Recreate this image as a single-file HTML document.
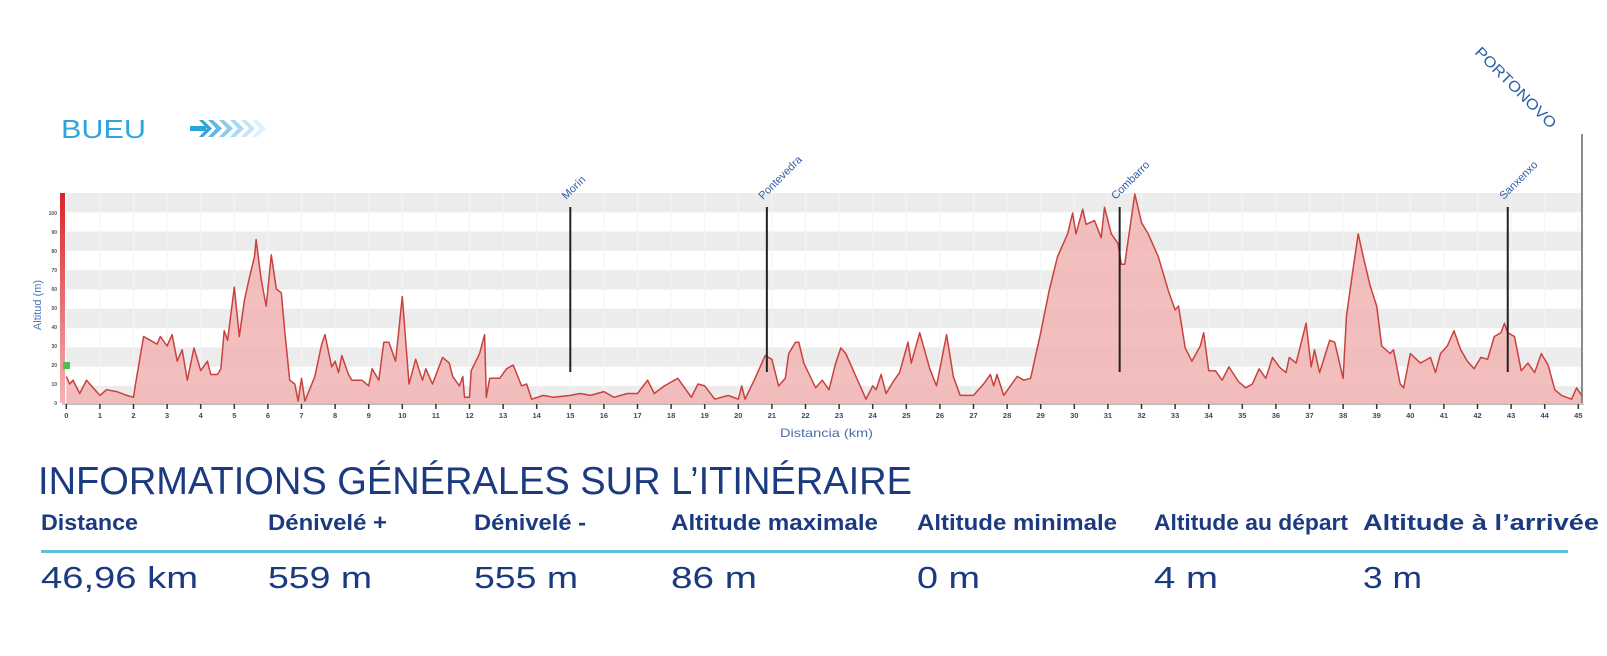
<!DOCTYPE html>
<html><head><meta charset="utf-8"><style>
html,body{margin:0;padding:0;background:#fff;}
svg{display:block;font-family:"Liberation Sans",sans-serif;}
</style></head><body>
<svg id="chart" width="1607" height="656" viewBox="0 0 1607 656" xmlns="http://www.w3.org/2000/svg">
<defs>
<linearGradient id="axisRed" x1="0" y1="0" x2="0" y2="1"><stop offset="0" stop-color="#d8262b"/><stop offset="1" stop-color="#f3b4b4"/></linearGradient>
</defs>
<text x="61" y="138" font-size="26" fill="#2ea6dd" textLength="85" lengthAdjust="spacingAndGlyphs">BUEU</text>
<g>
<rect x="190" y="126" width="16" height="5" fill="#2aa3de"/>
<path d="M203 120 L212 128.5 L203 137 L199 137 L207 128.5 L199 120Z" fill="#2aa3de"/>
<path d="M213 120 L222 128.5 L213 137 L208 137 L216 128.5 L208 120Z" fill="#5fb8e6"/>
<path d="M224 120 L233 128.5 L224 137 L219 137 L227 128.5 L219 120Z" fill="#8ccbee"/>
<path d="M235 120 L244 128.5 L235 137 L230 137 L238 128.5 L230 120Z" fill="#aad8f2"/>
<path d="M246 120 L255 128.5 L246 137 L241 137 L249 128.5 L241 120Z" fill="#c5e5f6"/>
<path d="M257 120 L266 128.5 L257 137 L252 137 L260 128.5 L252 120Z" fill="#dff0fa"/>
</g>
<g id="grid"></g>
<g id="vgrid"></g>
<g id="area"></g>
<g id="markers"></g>
<rect x="60" y="193" width="5" height="210" fill="url(#axisRed)"/>
<rect x="63" y="362" width="7" height="7" fill="#4cc04c"/>
<g id="yaxis"></g>
<g id="xaxis"></g>
<text transform="translate(41,305) rotate(-90)" text-anchor="middle" font-size="11" fill="#4a74b8">Altitud (m)</text>
<text x="780" y="437" font-size="12" fill="#4a6fa8" textLength="93" lengthAdjust="spacingAndGlyphs">Distancia (km)</text>
<text x="38" y="494" font-size="39" fill="#1c3a80" textLength="874" lengthAdjust="spacingAndGlyphs">INFORMATIONS GÉNÉRALES SUR L’ITINÉRAIRE</text>
<g id="info"></g>
<rect x="41" y="550" width="1527" height="3" fill="#5cc0dd"/>
</svg>
<script>
const NS='http://www.w3.org/2000/svg';
const kms=[0,0.1,0.2,0.4,0.6,0.7,1,1.2,1.5,1.8,2,2.05,2.3,2.5,2.7,2.8,3,3.15,3.3,3.45,3.6,3.8,4,4.2,4.3,4.5,4.6,4.7,4.8,5,5.15,5.3,5.45,5.6,5.65,5.8,5.95,6.1,6.25,6.4,6.5,6.65,6.8,6.9,7,7.1,7.4,7.6,7.7,7.9,8,8.1,8.2,8.4,8.5,8.8,9,9.1,9.3,9.45,9.6,9.8,10,10.2,10.4,10.6,10.7,10.9,11.2,11.4,11.5,11.7,11.8,11.85,12,12.05,12.3,12.45,12.5,12.6,12.9,13.1,13.3,13.55,13.7,13.85,14.2,14.5,15,15.3,15.6,16,16.3,16.7,17,17.3,17.5,17.8,18.2,18.6,18.8,19,19.3,19.7,20,20.1,20.2,20.5,20.8,21,21.2,21.4,21.5,21.7,21.8,21.95,22.3,22.5,22.7,22.9,23.05,23.2,23.5,23.8,24,24.1,24.25,24.4,24.6,24.8,25.05,25.15,25.4,25.7,25.9,26.2,26.4,26.6,27,27.3,27.5,27.6,27.7,27.9,28.3,28.5,28.7,29,29.25,29.5,29.8,29.95,30.05,30.25,30.35,30.6,30.8,30.9,31.1,31.3,31.4,31.5,31.8,32,32.2,32.5,32.8,33,33.1,33.3,33.5,33.75,33.85,34,34.2,34.4,34.6,34.9,35.1,35.3,35.5,35.7,35.9,36.1,36.3,36.4,36.6,36.9,37.05,37.15,37.3,37.6,37.75,38,38.1,38.3,38.45,38.6,38.8,39,39.15,39.4,39.5,39.7,39.8,40,40.3,40.6,40.75,40.9,41.1,41.3,41.5,41.7,41.9,42.1,42.3,42.5,42.7,42.8,42.9,43.1,43.3,43.5,43.7,43.9,44.1,44.3,44.5,44.8,44.95,45.1];
const alts=[14,10,12,5,12,10,4,7,6,4,3,9,35,33,31,35,30,36,22,28,12,29,17,22,15,15,18,38,33,61,35,54,66,77,86,65,51,78,60,58,38,12,10,1,13,1,14,31,36,19,22,16,25,15,12,12,9,18,12,32,32,22,56,10,23,12,18,10,24,21,14,9,14,3,3,17,26,36,3,13,13,18,20,9,10,2,4,3,4,5,4,6,3,5,5,12,5,9,13,3,10,9,2,4,2,9,2,13,25,23,9,13,26,32,32,21,8,12,7,21,29,26,14,2,9,7,15,5,11,16,32,21,37,18,9,36,14,4,4,10,15,9,15,4,14,12,13,37,59,77,89,100,89,102,94,96,87,103,89,84,73,73,110,95,89,77,59,49,51,29,22,30,37,17,17,12,19,11,8,10,18,13,24,19,16,24,21,42,19,28,16,33,32,13,46,71,89,77,62,51,30,26,28,10,8,26,21,24,16,26,30,38,28,22,18,24,23,35,37,42,37,35,17,21,16,26,20,7,4,2,8,4];
const xTicks=[0,1,2,3,4,5,6,7,8,9,10,11,12,13,14,15,16,17,18,19,20,21,22,23,24,25,26,27,28,29,30,31,32,33,34,35,36,37,38,39,40,41,42,43,44,45];
const yTicks=[0,10,20,30,40,50,60,70,80,90,100];
const townNames=['Morín','Pontevedra','Combarro','Sanxenxo'];
const townKm=[15,20.85,31.35,42.9];
const headers=['Distance','Dénivelé +','Dénivelé -','Altitude maximale','Altitude minimale','Altitude au départ','Altitude à l’arrivée'];
const values=['46,96 km','559 m','555 m','86 m','0 m','4 m','3 m'];
const colX=[41,268,474,671,917,1154,1363];
const headW=[97,119,112,207,200,194,236];
const valW=[157,104,104,86,63,64,59];

const X=km=>66.3+33.6*km;
const Y=a=>403-1.9*a;
function mk(tag,attrs,parent){const e=document.createElementNS(NS,tag);for(const k in attrs)e.setAttribute(k,attrs[k]);parent.appendChild(e);return e;}

const grid=document.getElementById('grid');
for(let i=0;i<6;i++){const r=mk('rect',{x:66,y:193+38.6*i,width:1516,height:19.3,fill:'#ececec'},grid);

}
const vg=document.getElementById('vgrid');
xTicks.forEach(t=>{const l=mk('line',{x1:X(t),x2:X(t),y1:193,y2:403,stroke:'#f4f4f4','stroke-width':1},vg);

});

const area=document.getElementById('area');
let d='M'+X(kms[0])+' '+Y(0);
kms.forEach((k,i)=>{d+=' L'+X(k).toFixed(1)+' '+Y(alts[i]).toFixed(1);});
let ln='M'+X(kms[0])+' '+Y(alts[0]);
kms.forEach((k,i)=>{ln+=' L'+X(k).toFixed(1)+' '+Y(alts[i]).toFixed(1);});
d+=' L'+X(kms[kms.length-1])+' '+Y(0)+' Z';
const fillP=mk('path',{d:d,fill:'#f2b7b7','fill-opacity':0.9},area);


const lineP=mk('path',{d:ln,fill:'none',stroke:'#c8423e','stroke-width':1.5,'stroke-linejoin':'round'},area);



const mkG=document.getElementById('markers');
townNames.forEach((n,i)=>{const x=X(townKm[i]);
const l=mk('line',{x1:x,x2:x,y1:207,y2:372,stroke:'#222','stroke-width':2},mkG);


const t=mk('text',{transform:'translate('+(x-4)+',200) rotate(-45)','font-size':11,fill:'#2d5ea8'},mkG);
t.textContent=n;

});
const pl=mk('line',{x1:1582,x2:1582,y1:134,y2:403,stroke:'#666','stroke-width':1.5},mkG);


const pt=mk('text',{transform:'translate(1474,53) rotate(45)','font-size':15,fill:'#2d5ea8',textLength:108,lengthAdjust:'spacingAndGlyphs'},mkG);
pt.textContent='PORTONOVO';



const ya=document.getElementById('yaxis');
yTicks.forEach(v=>{const t=mk('text',{x:57,y:Y(v)+2,'font-size':5,'text-anchor':'end',fill:'#555','font-weight':'bold'},ya);
t.textContent=v;

});
const xa=document.getElementById('xaxis');
const base=mk('line',{x1:62,x2:1584,y1:404,y2:404,stroke:'#999','stroke-width':1},xa);


xTicks.forEach(v=>{const x=X(v);
const tk=mk('line',{x1:x,x2:x,y1:404,y2:409,stroke:'#333','stroke-width':1.5},xa);


const t=mk('text',{x:x,y:418,'font-size':7.5,'font-weight':'bold','text-anchor':'middle',fill:'#3b4a66'},xa);
t.textContent=v;

});

const info=document.getElementById('info');
headers.forEach((h,i)=>{const t=mk('text',{x:colX[i],y:530,'font-size':22,'font-weight':'bold',fill:'#1c3a80',textLength:headW[i],lengthAdjust:'spacingAndGlyphs'},info);
t.textContent=h;


const v=mk('text',{x:colX[i],y:588,'font-size':31,fill:'#1c3a80',textLength:valW[i],lengthAdjust:'spacingAndGlyphs'},info);
v.textContent=values[i];

});
</script>
</body></html>
